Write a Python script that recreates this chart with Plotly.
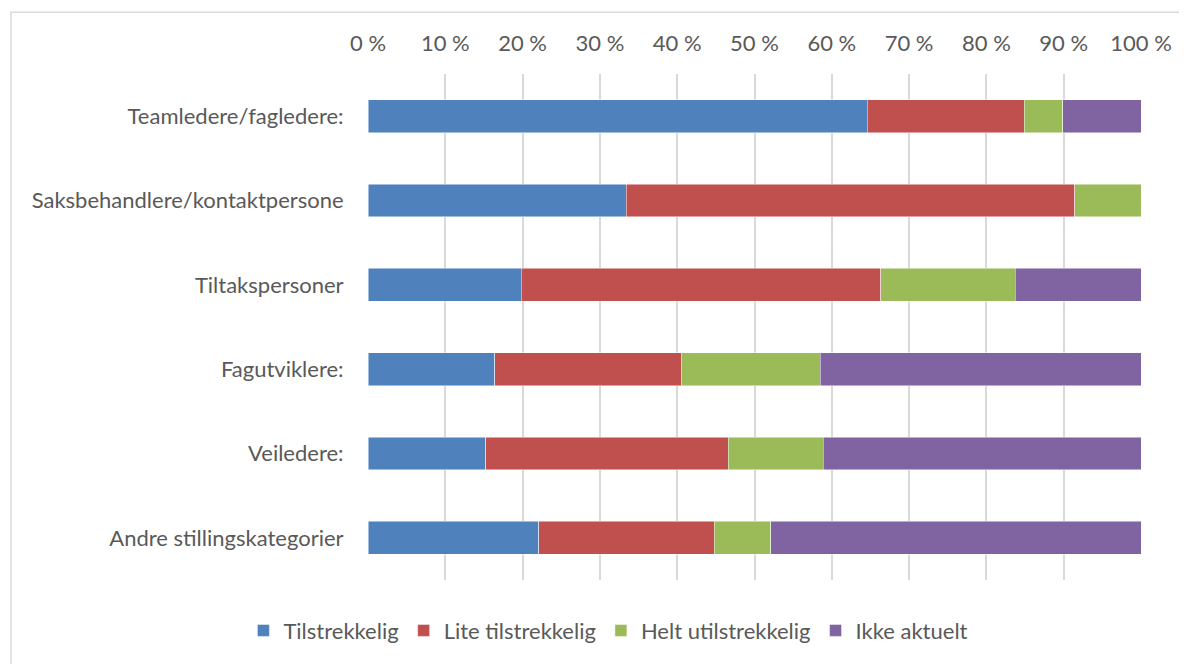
import plotly.graph_objects as go

categories = [
    "Teamledere/fagledere:",
    "Saksbehandlere/kontaktpersone",
    "Tiltakspersoner",
    "Fagutviklere:",
    "Veiledere:",
    "Andre stillingskategorier",
]
tilstrekkelig = [64.6, 33.4, 19.8, 16.4, 15.2, 22.1]
lite_tilstrekkelig = [20.3, 58.0, 46.5, 24.1, 31.4, 22.7]
helt_utilstrekkelig = [5.0, 8.6, 17.4, 18.0, 12.3, 7.3]
ikke_aktuelt = [10.1, 0.0, 16.3, 41.5, 41.1, 47.9]

series_names = ["Tilstrekkelig", "Lite tilstrekkelig", "Helt utilstrekkelig", "Ikke aktuelt"]
series_values = [tilstrekkelig, lite_tilstrekkelig, helt_utilstrekkelig, ikke_aktuelt]
colors = ["#4F81BD", "#C0504D", "#9BBB59", "#8064A2"]

tick_vals = list(range(0, 101, 10))
tick_text = [f"{v} %" for v in tick_vals]

FONT = "Lato"
TXT = "#595959"
FS = 22

W, H = 1179, 656
ML, MR, MT = 359.5, 45.5, 66
PW = W - ML - MR
PH = 508
MB = H - MT - PH

fig = go.Figure()
for name, vals, col in zip(series_names, series_values, colors):
    fig.add_trace(go.Bar(
        y=categories, x=vals, name=name, orientation="h",
        marker=dict(color=col, line=dict(color="rgba(255,255,255,0.6)", width=0.8)),
    ))

fig.update_layout(
    barmode="stack",
    bargap=0.61,
    width=W, height=H,
    margin=dict(l=ML, r=MR, t=MT, b=MB),
    paper_bgcolor="white",
    plot_bgcolor="white",
    font=dict(family=FONT, size=FS, color=TXT),
    xaxis=dict(
        range=[0, 100], side="top",
        tickvals=tick_vals, ticktext=tick_text,
        showgrid=True, gridcolor="#D9D9D9", gridwidth=1.5,
        zeroline=False, showline=False,
        ticks="outside", ticklen=13, tickcolor="rgba(0,0,0,0)",
        tickfont=dict(family=FONT, size=FS, color=TXT),
    ),
    yaxis=dict(
        autorange="reversed",
        showgrid=False, zeroline=False, showline=False,
        ticks="outside", ticklen=19, tickcolor="rgba(0,0,0,0)",
        tickfont=dict(family=FONT, size=FS, color=TXT),
    ),
    legend=dict(
        orientation="h", x=0.311, xanchor="center", y=-0.1, yanchor="middle",
        font=dict(family=FONT, size=FS, color=TXT),
        traceorder="normal",
    ),
    showlegend=True,
)

fig.add_shape(
    type="rect", xref="paper", yref="paper",
    x0=(2 - ML) / PW, x1=1.2, y0=-0.3, y1=(PH + MT - 4) / PH,
    line=dict(color="#D9D9D9", width=1.5), fillcolor="rgba(0,0,0,0)", layer="below",
)

fig.write_html("out.html")
